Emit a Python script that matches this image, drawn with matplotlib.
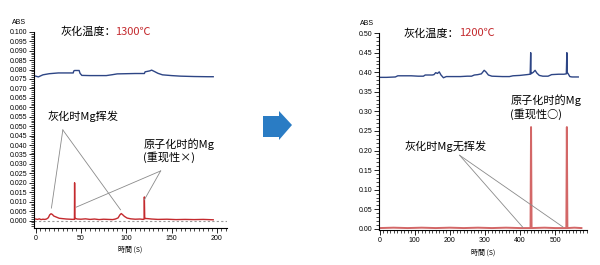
import matplotlib
matplotlib.use("Agg")
import matplotlib.pyplot as plt
from matplotlib.patches import Polygon
from matplotlib.ticker import MultipleLocator

plt.rcParams['font.family'] = ['Liberation Sans', 'Noto Sans CJK SC', 'DejaVu Sans']
CJK = ['Noto Sans CJK SC', 'DejaVu Sans']

# left chart (ashing 1300C)
t_blue_1300 = [0, 3, 8, 15, 25, 35, 41.5, 42, 43, 48, 49, 51, 60, 70, 78, 85, 90, 100, 110,
               120, 120.8, 123, 126, 128, 131, 135, 140, 150, 160, 175, 190, 196]
v_blue_1300 = [0.0765, 0.0761, 0.0772, 0.0778, 0.0782, 0.0782, 0.0782, 0.0792, 0.0795, 0.0795,
               0.0780, 0.0769, 0.0768, 0.0768, 0.0768, 0.0773, 0.0777, 0.0778, 0.0779,
               0.0779, 0.0788, 0.0790, 0.0793, 0.0797, 0.0790, 0.0780, 0.0772, 0.0768,
               0.0765, 0.0763, 0.0762, 0.0762]
t_red_1300 = [0, 2, 4, 6, 8, 10, 12, 14, 15.5, 17, 18.5, 20, 23, 26, 30, 34, 38, 42, 42.8, 43,
              43.3, 44, 46, 50, 55, 60, 65, 70, 75, 80, 85, 88, 91, 93, 94.5, 96, 98, 101, 105,
              110, 115, 119, 119.7, 120, 120.4, 121, 124, 128, 135, 145, 155, 165, 175, 185, 196]
v_red_1300 = [0.0008, 0.0006, 0.0009, 0.0005, 0.0007, 0.0006, 0.0008, 0.0015, 0.0030, 0.0036,
              0.0032, 0.0024, 0.0018, 0.0012, 0.0010, 0.0008, 0.0007, 0.0006, 0.0010, 0.0200,
              0.0008, 0.0011, 0.0008, 0.0007, 0.0009, 0.0006, 0.0008, 0.0005, 0.0007, 0.0006,
              0.0005, 0.0008, 0.0014, 0.0030, 0.0037, 0.0031, 0.0022, 0.0013, 0.0009, 0.0007,
              0.0008, 0.0006, 0.0010, 0.0125, 0.0009, 0.0011, 0.0010, 0.0008, 0.0006, 0.0007,
              0.0005, 0.0006, 0.0005, 0.0006, 0.0004]

# right chart (ashing 1200C)
t_blue_1200 = [0, 20, 45, 52, 60, 90, 110, 125, 130, 150, 155, 160, 165, 170, 175, 182, 190,
               200, 230, 250, 262, 270, 280, 290, 298, 303, 310, 320, 350, 370, 380, 400, 420,
               429, 430.5, 431.5, 433, 438, 443, 448, 455, 465, 480, 490, 510, 525, 532, 533.5,
               534.5, 536, 542, 548, 556, 566]
v_blue_1200 = [0.387, 0.387, 0.388, 0.391, 0.391, 0.391, 0.390, 0.390, 0.393, 0.393, 0.394,
               0.399, 0.397, 0.401, 0.393, 0.386, 0.389, 0.389, 0.389, 0.390, 0.390, 0.393,
               0.394, 0.396, 0.405, 0.401, 0.393, 0.390, 0.389, 0.389, 0.391, 0.392, 0.394,
               0.395, 0.450, 0.396, 0.397, 0.400, 0.405, 0.398, 0.392, 0.390, 0.390, 0.394,
               0.395, 0.395, 0.396, 0.450, 0.398, 0.398, 0.389, 0.388, 0.388, 0.388]
t_red_1200 = [0, 40, 80, 120, 160, 200, 240, 280, 320, 360, 400, 430, 431.5, 433, 470, 500,
              532, 533.5, 535, 555, 575]
v_red_1200 = [0.002, 0.003, 0.002, 0.003, 0.002, 0.003, 0.002, 0.003, 0.002, 0.003, 0.002,
              0.002, 0.260, 0.002, 0.003, 0.002, 0.002, 0.260, 0.002, 0.003, 0.002]

BLUE = '#2d4585'
RED = '#c42a2e'
GRAY = '#8a8a8a'

fig = plt.figure(figsize=(6, 2.65), dpi=100)
ax1 = fig.add_axes([0.057, 0.140, 0.321, 0.740])
ax2 = fig.add_axes([0.632, 0.132, 0.347, 0.743])


def style(ax):
    for s in ['top', 'right']:
        ax.spines[s].set_visible(False)
    for s in ['left', 'bottom']:
        ax.spines[s].set_linewidth(0.8)
    ax.tick_params(which='major', direction='out', length=3.5, width=0.6, labelsize=5, pad=1.5)
    ax.tick_params(which='minor', direction='out', length=2, width=0.5)


# left
ax1.plot(t_blue_1300, v_blue_1300, color=BLUE, lw=1.0)
ax1.plot(t_red_1300, v_red_1300, color=RED, lw=1.0)
ax1.axhline(0, color='#999999', lw=0.8, ls=(0, (2, 2)), zorder=0)
ax1.set_xlim(-1.6, 211)
ax1.set_ylim(-0.0039, 0.1)
ax1.xaxis.set_major_locator(MultipleLocator(50))
ax1.xaxis.set_minor_locator(MultipleLocator(5))
ax1.yaxis.set_major_locator(MultipleLocator(0.005))
ax1.yaxis.set_minor_locator(MultipleLocator(0.001))
ax1.yaxis.set_major_formatter(lambda v, p: f'{v:.3f}')
style(ax1)
ax1.set_xlabel('時間 (S)', family=['Noto Sans CJK JP', 'DejaVu Sans'], fontsize=5, labelpad=3)
ax1.text(-0.08, 1.04, 'ABS', transform=ax1.transAxes, fontsize=5, ha='center')

ax1.text(27, 0.1, '灰化温度：', family=CJK, fontsize=8, va='center')
ax1.text(88, 0.1, '1300℃', family=CJK, fontsize=8, va='center', color=RED)
ax1.text(13.5, 0.055, '灰化时Mg挥发', family=CJK, fontsize=8, va='center')
ax1.text(119, 0.0405, '原子化时的Mg', family=CJK, fontsize=8, va='center')
ax1.text(118, 0.0335, '(重现性×)', family=CJK, fontsize=8, va='center')
for end in [(17.4, 0.0066), (93.7, 0.0057)]:
    ax1.plot([30, end[0]], [0.048, end[1]], color=GRAY, lw=0.6)
for end in [(44.8, 0.0071), (120, 0.011)]:
    ax1.plot([138, end[0]], [0.0263, end[1]], color=GRAY, lw=0.6)

# right
ax2.plot(t_blue_1200, v_blue_1200, color=BLUE, lw=1.0)
ax2.plot(t_red_1200, v_red_1200, color='#d36767', lw=1.4)
ax2.set_xlim(-1, 592)
ax2.set_ylim(-0.003, 0.5)
ax2.xaxis.set_major_locator(MultipleLocator(100))
ax2.xaxis.set_minor_locator(MultipleLocator(10))
ax2.yaxis.set_major_locator(MultipleLocator(0.05))
ax2.yaxis.set_minor_locator(MultipleLocator(0.01))
ax2.yaxis.set_major_formatter(lambda v, p: f'{v:.2f}')
style(ax2)
ax2.set_xlabel('時間 (S)', family=['Noto Sans CJK JP', 'DejaVu Sans'], fontsize=5, labelpad=3)
ax2.text(-0.06, 1.04, 'ABS', transform=ax2.transAxes, fontsize=5, ha='center')

ax2.text(68, 0.5, '灰化温度：', family=CJK, fontsize=8, va='center')
ax2.text(227, 0.5, '1200℃', family=CJK, fontsize=8, va='center', color=RED)
ax2.text(372, 0.329, '原子化时的Mg', family=CJK, fontsize=8, va='center')
ax2.text(372, 0.293, '(重现性○)', family=CJK, fontsize=8, va='center')
ax2.text(70, 0.211, '灰化时Mg无挥发', family=CJK, fontsize=8, va='center')
for end in [(408, 0.004), (522, 0.005)]:
    ax2.plot([228, end[0]], [0.188, end[1]], color=GRAY, lw=0.6)

# arrow between charts
W, H = 600, 265
pts = [(263, 116), (279, 116), (279, 111), (292, 125), (279, 140), (279, 137), (263, 137)]
fig.patches.append(Polygon([(x / W, 1 - y / H) for x, y in pts], closed=True,
                           transform=fig.transFigure, facecolor='#2a7cc4', edgecolor='none'))

fig.savefig('out.png', dpi=100)
